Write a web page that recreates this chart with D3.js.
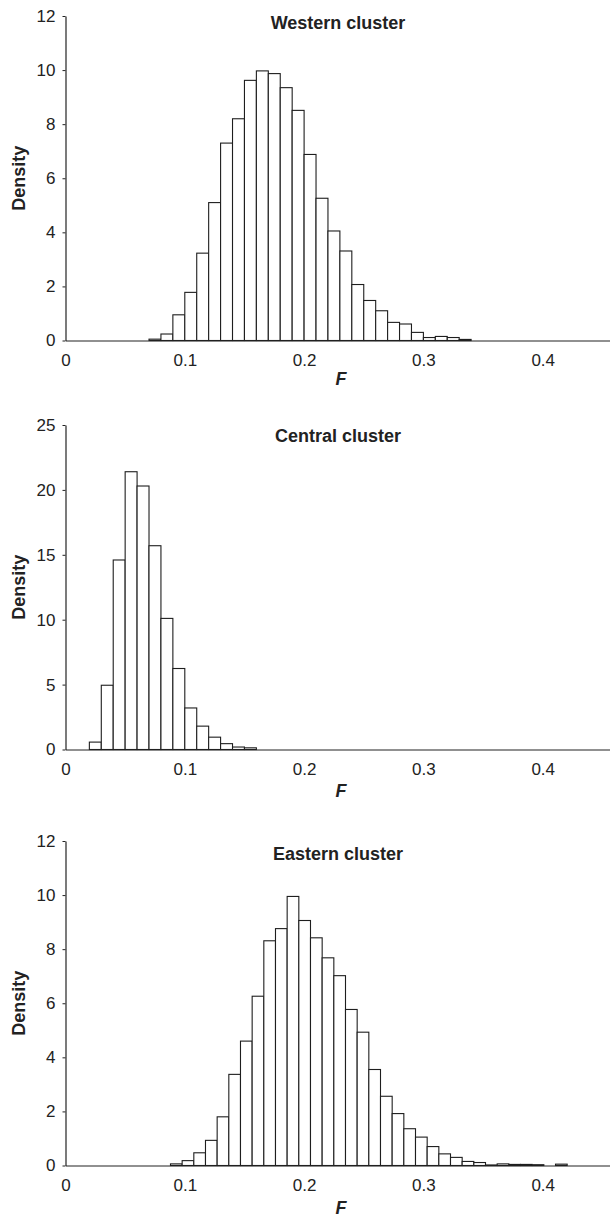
<!DOCTYPE html>
<html>
<head>
<meta charset="utf-8">
<script src="https://cdn.jsdelivr.net/npm/d3@7"></script>
<style>
  body { margin: 0; background: #fff; }
  text { font-family: "Liberation Sans", Arial, sans-serif; fill: #222; }
</style>
</head>
<body>
<script>
// histogram data, one block per cluster (bin start, bin width, densities)
var titles = ["Western cluster", "Central cluster", "Eastern cluster"];
var yMax = [12, 25, 12];
var yTicks = [[0, 2, 4, 6, 8, 10, 12], [0, 5, 10, 15, 20, 25], [0, 2, 4, 6, 8, 10, 12]];
var xTicks = [0, 0.1, 0.2, 0.3, 0.4];

var westStart = 0.07, westWidth = 0.01;
var westDensity = [0.05, 0.24, 0.95, 1.78, 3.23, 5.10, 7.30, 8.20, 9.62, 9.97, 9.87, 9.35, 8.51,
  6.88, 5.26, 4.05, 3.31, 2.07, 1.48, 1.10, 0.67, 0.61, 0.30, 0.11, 0.15, 0.11, 0.04];

var centralStart = 0.02, centralWidth = 0.01;
var centralDensity = [0.57, 4.95, 14.6, 21.4, 20.3, 15.7, 10.1, 6.24, 3.20, 1.80, 0.95, 0.45, 0.19, 0.13];

var eastStart = 0.088, eastWidth = 0.00978;
var eastDensity = [0.06, 0.18, 0.47, 0.93, 1.80, 3.37, 4.60, 6.26, 8.31, 8.76, 9.95, 9.06, 8.42,
  7.68, 7.02, 5.77, 4.93, 3.55, 2.56, 1.92, 1.36, 1.05, 0.70, 0.43, 0.30, 0.15, 0.11,
  0.02, 0.06, 0.04, 0.04, 0.03, 0, 0.05];

var panels = [
  {start: westStart, width: westWidth, values: westDensity, top: 16, titleY: 29, fY: 385},
  {start: centralStart, width: centralWidth, values: centralDensity, top: 425, titleY: 442, fY: 797},
  {start: eastStart, width: eastWidth, values: eastDensity, top: 841, titleY: 860, fY: 1214}
];

var W = 610, H = 1217;
var left = 65.5, plotH = 324.5;

var svg = d3.select("body").append("svg")
  .attr("width", W)
  .attr("height", H);

var x = d3.scaleLinear().domain([0, (W - left) / 1193]).range([left, W]);

panels.forEach(function(p, k) {
  var y = d3.scaleLinear().domain([0, yMax[k]]).range([p.top + plotH, p.top]);
  var g = svg.append("g");

  var bins = p.values.map(function(v, i) {
    return {x0: p.start + i * p.width, x1: p.start + (i + 1) * p.width, v: v};
  });

  g.selectAll("rect")
    .data(bins)
    .enter().append("rect")
      .attr("x", function(d) { return x(d.x0); })
      .attr("width", function(d) { return x(d.x1) - x(d.x0); })
      .attr("y", function(d) { return y(d.v); })
      .attr("height", function(d) { return y(0) - y(d.v); })
      .attr("fill", "#fff")
      .attr("stroke", "#1e1e1e")
      .attr("stroke-width", 1.1);

  // x axis
  var xa = g.append("g")
    .attr("transform", "translate(0," + y(0) + ")")
    .call(d3.axisBottom(x).tickValues(xTicks).tickSize(0).tickPadding(13)
      .tickFormat(function(d) { return d === 0 ? "0" : d3.format(".1f")(d); }));
  // y axis
  var ya = g.append("g")
    .attr("transform", "translate(" + left + ",0)")
    .call(d3.axisLeft(y).tickValues(yTicks[k]).tickSizeInner(3).tickSizeOuter(0).tickPadding(7));

  [xa, ya].forEach(function(a) {
    a.selectAll("path").attr("stroke", "#222").attr("stroke-width", 1.2);
    a.selectAll("line").attr("stroke", "#222");
    a.selectAll("text").style("font-size", "17px").attr("fill", "#222")
      .style("font-family", "'Liberation Sans', Arial, sans-serif");
  });

  g.append("text")
    .attr("x", 338)
    .attr("y", p.titleY)
    .attr("text-anchor", "middle")
    .style("font-size", "18px")
    .style("font-weight", "bold")
    .text(titles[k]);

  g.append("text")
    .attr("transform", "translate(25," + (p.top + plotH / 2) + ") rotate(-90)")
    .attr("text-anchor", "middle")
    .style("font-size", "18px")
    .style("font-weight", "bold")
    .text("Density");

  g.append("text")
    .attr("x", 341)
    .attr("y", p.fY)
    .attr("text-anchor", "middle")
    .style("font-size", "18px")
    .style("font-weight", "bold")
    .style("font-style", "italic")
    .text("F");
});
</script>
</body>
</html>
